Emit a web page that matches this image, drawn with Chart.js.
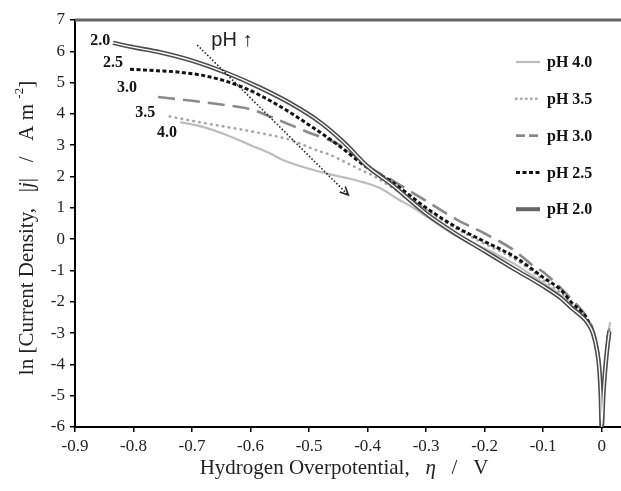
<!DOCTYPE html>
<html>
<head>
<meta charset="utf-8">
<script src="https://cdn.jsdelivr.net/npm/chart.js@4.4.1/dist/chart.umd.min.js"></script>
<style>
  html, body { margin: 0; padding: 0; background: #fff; }
</style>
</head>
<body>
<canvas id="chart" width="621" height="491"></canvas>
<script>
// values: eta (V) vs ln|j|
const eta20 = [-0.835, -0.80, -0.755, -0.70, -0.64, -0.584, -0.532, -0.48, -0.44, -0.40, -0.36, -0.30, -0.25, -0.20, -0.15, -0.10, -0.07, -0.05, -0.035, -0.025, -0.015, -0.008, -0.004, -0.0015, 0, 0.003, 0.007, 0.010, 0.013];
const lnj20 = [6.27, 6.13, 5.97, 5.70, 5.30, 4.84, 4.34, 3.72, 3.08, 2.32, 1.76, 0.82, 0.18, -0.38, -0.95, -1.50, -1.88, -2.22, -2.45, -2.65, -3.00, -3.55, -4.15, -5.0, -6.0, -4.9, -3.95, -3.4, -2.95];

const eta25 = [-0.806, -0.76, -0.72, -0.669, -0.613, -0.555, -0.50, -0.45, -0.40, -0.36, -0.30, -0.25, -0.20, -0.15, -0.10, -0.07, -0.05, -0.035, -0.025, -0.015, -0.008, -0.004, -0.0015, 0, 0.003, 0.007, 0.010, 0.013];
const lnj25 = [5.43, 5.38, 5.33, 5.18, 4.85, 4.30, 3.65, 3.00, 2.28, 1.85, 1.00, 0.40, -0.08, -0.55, -1.22, -1.62, -2.05, -2.30, -2.55, -2.95, -3.5, -4.1, -5.0, -6.0, -4.9, -3.95, -3.35, -2.9];

const eta30 = [-0.758, -0.70, -0.65, -0.60, -0.567, -0.532, -0.50, -0.452, -0.42, -0.39, -0.36, -0.30, -0.25, -0.20, -0.15, -0.117, -0.10, -0.076, -0.05, -0.035, -0.025, -0.015, -0.008, -0.004, -0.0015, 0, 0.003, 0.007, 0.010, 0.013];
const lnj30 = [4.54, 4.42, 4.30, 4.15, 3.92, 3.65, 3.40, 3.05, 2.65, 2.22, 1.90, 1.22, 0.65, 0.18, -0.35, -0.85, -1.05, -1.45, -1.95, -2.25, -2.5, -2.9, -3.45, -4.05, -5.0, -6.0, -4.85, -3.9, -3.3, -2.85];

const eta35 = [-0.738, -0.70, -0.64, -0.584, -0.532, -0.493, -0.464, -0.435, -0.408, -0.39, -0.35, -0.30, -0.25, -0.20, -0.15, -0.10, -0.07, -0.05, -0.035, -0.025, -0.015, -0.008, -0.004, -0.0015, 0, 0.003, 0.007, 0.010, 0.0135];
const lnj35 = [3.92, 3.78, 3.58, 3.39, 3.17, 2.88, 2.69, 2.43, 2.18, 2.02, 1.55, 0.95, 0.35, -0.15, -0.62, -1.30, -1.72, -2.08, -2.35, -2.58, -2.95, -3.5, -4.1, -5.0, -6.0, -4.85, -3.85, -3.2, -2.75];

const eta40 = [-0.72, -0.68, -0.64, -0.60, -0.567, -0.544, -0.50, -0.464, -0.435, -0.408, -0.38, -0.35, -0.32, -0.293, -0.25, -0.20, -0.15, -0.10, -0.07, -0.05, -0.035, -0.025, -0.015, -0.008, -0.004, -0.0015, 0, 0.003, 0.007, 0.010, 0.0145];
const lnj40 = [3.74, 3.58, 3.32, 3.00, 2.74, 2.52, 2.25, 2.07, 1.95, 1.82, 1.64, 1.30, 0.98, 0.64, 0.12, -0.30, -0.78, -1.40, -1.80, -2.15, -2.40, -2.62, -2.98, -3.52, -4.12, -5.0, -6.0, -4.8, -3.8, -3.15, -2.65];

// "pH up" arrow
const arrowEta = [-0.691, -0.433];
const arrowLnj = [6.2, 1.41];

// curve labels
const curveLabels = ['2.0', '2.5', '3.0', '3.5', '4.0'];
const labelEta = [-0.857, -0.835, -0.811, -0.78, -0.743];
const labelLnj = [6.33, 5.63, 4.83, 4.03, 3.39];

const xTicks = [-0.9, -0.8, -0.7, -0.6, -0.5, -0.4, -0.3, -0.2, -0.1, 0];
const xTickLabels = ['-0.9', '-0.8', '-0.7', '-0.6', '-0.5', '-0.4', '-0.3', '-0.2', '-0.1', '0'];
const legendNames = ['pH 4.0', 'pH 3.5', 'pH 3.0', 'pH 2.5', 'pH 2.0'];

const pts = (xs, ys) => xs.map((v, i) => ({ x: v, y: ys[i] }));
const SERIF = '"Liberation Serif", "Times New Roman", serif';

const styles = {
  '4.0': { borderColor: '#bdbdbd', borderWidth: 2.2, borderDash: [] },
  '3.5': { borderColor: '#a6a6a6', borderWidth: 2.6, borderDash: [0.5, 5.5], borderCapStyle: 'round' },
  '3.0': { borderColor: '#8a8a8a', borderWidth: 2.6, borderDash: [17, 8] },
  '2.5': { borderColor: '#111', borderWidth: 3, borderDash: [4, 2.5] },
  '2.0': { borderColor: '#4d4d4d', borderWidth: 4.5, borderDash: [] },
};

const line = (label, data, st, order) => Object.assign({
  label, data, order, showLine: true, pointRadius: 0, fill: false,
  cubicInterpolationMode: 'monotone',
}, st);

const datasets = [
  line('pH 2.0 inner', pts(eta20, lnj20), { borderColor: '#fff', borderWidth: 1.3 }, 0),
  line('pH 2.0', pts(eta20, lnj20), styles['2.0'], 1),
  line('pH 2.5', pts(eta25, lnj25), styles['2.5'], 2),
  line('pH 3.0', pts(eta30, lnj30), styles['3.0'], 3),
  line('pH 3.5', pts(eta35, lnj35), styles['3.5'], 4),
  line('pH 4.0', pts(eta40, lnj40), styles['4.0'], 5),
  { label: 'arrow', data: pts(arrowEta, arrowLnj), showLine: true, pointRadius: 0,
    borderColor: '#222', borderWidth: 1.6, borderDash: [1.5, 2], order: -1, tension: 0 },
];

function drawRich(ctx, segs, cx, cy) {
  let total = 0;
  segs.forEach(s => { ctx.font = s.font; total += ctx.measureText(s.t).width; });
  let x = cx - total / 2;
  segs.forEach(s => {
    ctx.font = s.font;
    ctx.fillText(s.t, x, cy + (s.dy || 0));
    x += ctx.measureText(s.t).width;
  });
}

const overlay = {
  id: 'overlay',
  afterDraw(chart) {
    const { ctx, chartArea: a, scales: { x, y } } = chart;
    ctx.save();
    // top frame line
    ctx.strokeStyle = '#666';
    ctx.lineWidth = 3;
    ctx.beginPath(); ctx.moveTo(a.left, a.top); ctx.lineTo(a.right, a.top); ctx.stroke();

    // arrow head
    const x0 = x.getPixelForValue(arrowEta[0]), y0 = y.getPixelForValue(arrowLnj[0]);
    const x1 = x.getPixelForValue(arrowEta[1]), y1 = y.getPixelForValue(arrowLnj[1]);
    const ang = Math.atan2(y1 - y0, x1 - x0);
    ctx.strokeStyle = '#222';
    ctx.lineWidth = 1.6;
    ctx.beginPath();
    ctx.moveTo(x1 - 9 * Math.cos(ang - 0.45), y1 - 9 * Math.sin(ang - 0.45));
    ctx.lineTo(x1, y1);
    ctx.lineTo(x1 - 9 * Math.cos(ang + 0.45), y1 - 9 * Math.sin(ang + 0.45));
    ctx.stroke();

    // curve labels
    ctx.fillStyle = '#111';
    ctx.textAlign = 'center';
    ctx.textBaseline = 'middle';
    ctx.font = 'bold 16px ' + SERIF;
    curveLabels.forEach((t, i) => ctx.fillText(t, x.getPixelForValue(labelEta[i]), y.getPixelForValue(labelLnj[i])));

    ctx.font = '20px "Liberation Sans", Arial, sans-serif';
    ctx.fillStyle = '#222';
    ctx.fillText('pH \u2191', x.getPixelForValue(-0.632), y.getPixelForValue(6.33));

    // legend
    const keys = ['4.0', '3.5', '3.0', '2.5', '2.0'];
    keys.forEach((k, i) => {
      const yy = 62 + i * 36.8;
      const st = styles[k];
      ctx.save();
      ctx.strokeStyle = k === '2.0' ? '#666' : st.borderColor;
      ctx.lineWidth = k === '2.0' ? 4 : st.borderWidth;
      ctx.setLineDash(k === '3.0' ? [9, 4] : (k === '3.5' ? [0.5, 4.5] : st.borderDash));
      ctx.lineCap = st.borderCapStyle || 'butt';
      ctx.beginPath(); ctx.moveTo(516, yy); ctx.lineTo(540, yy); ctx.stroke();
      ctx.restore();
      ctx.textAlign = 'left';
      ctx.font = 'bold 16px ' + SERIF;
      ctx.fillStyle = '#111';
      ctx.fillText(legendNames[i], 547, yy + 1);
    });

    // axis titles
    ctx.fillStyle = '#222';
    ctx.textAlign = 'left';
    ctx.textBaseline = 'middle';
    const n = '21px ' + SERIF, it = 'italic 21px ' + SERIF, sup = '13px ' + SERIF;
    drawRich(ctx, [
      { t: 'Hydrogen Overpotential,   ', font: n },
      { t: '\u03B7', font: it },
      { t: '   /   V', font: n },
    ], 344, 468);

    ctx.translate(27, 228);
    ctx.rotate(-Math.PI / 2);
    drawRich(ctx, [
      { t: 'ln [Current Density,   |', font: n },
      { t: 'j', font: it },
      { t: '|   /   A m ', font: n },
      { t: '-2', font: sup, dy: -7 },
      { t: ']', font: n },
    ], 0, 0);
    ctx.restore();
  }
};

new Chart(document.getElementById('chart'), {
  type: 'scatter',
  data: { datasets },
  options: {
    responsive: false,
    animation: false,
    devicePixelRatio: 1,
    layout: { padding: { top: 20, right: 0, left: 0, bottom: 0 } },
    plugins: { legend: { display: false }, tooltip: { enabled: false } },
    scales: {
      x: {
        type: 'linear', min: -0.9, max: 0.033,
        afterBuildTicks: s => { s.ticks = xTicks.map(v => ({ value: v })); },
        afterFit: s => { s.height = 64; },
        grid: { drawOnChartArea: false, drawTicks: true, tickLength: 5, color: '#000', lineWidth: 1.5 },
        border: { display: true, color: '#000', width: 2 },
        ticks: {
          color: '#222', font: { family: SERIF, size: 17 }, padding: 4, maxRotation: 0,
          callback: (v, i) => xTickLabels[i],
        },
      },
      y: {
        type: 'linear', min: -6, max: 7,
        afterFit: s => { s.width = 75; },
        grid: { drawOnChartArea: false, drawTicks: true, tickLength: 5, color: '#000', lineWidth: 1.5 },
        border: { display: true, color: '#000', width: 2 },
        ticks: { stepSize: 1, color: '#222', font: { family: SERIF, size: 17 }, padding: 5 },
      },
    },
  },
  plugins: [overlay],
});
</script>
</body>
</html>
